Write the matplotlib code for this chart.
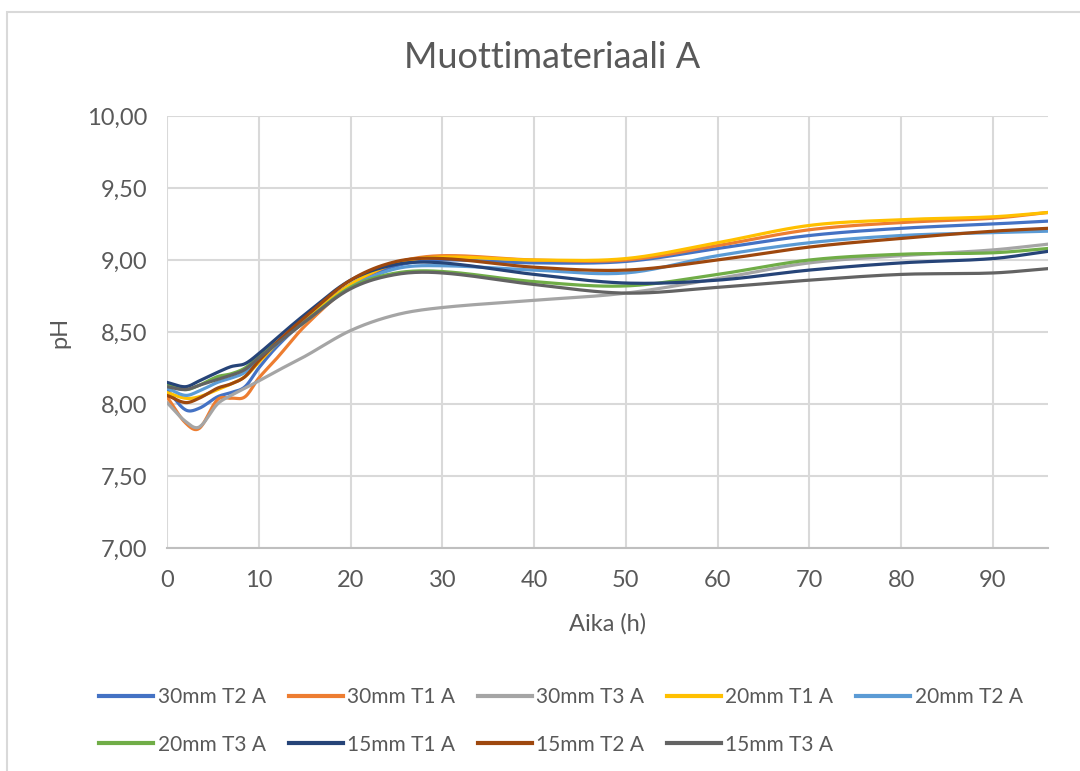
import numpy as np
import matplotlib
matplotlib.use("Agg")
import matplotlib.pyplot as plt
from matplotlib.ticker import FuncFormatter, MultipleLocator
from matplotlib.lines import Line2D

# mittausajat (h)
hours = [0, 2, 3.5, 5.5, 7, 8.5, 10, 12, 15, 20, 25, 30, 40, 50, 60, 70, 80, 90, 96]

ph_30mm_t2 = [8.10, 7.96, 7.97, 8.05, 8.08, 8.12, 8.25, 8.40, 8.58, 8.83, 8.96, 9.00, 8.98, 8.99, 9.08, 9.17, 9.22, 9.25, 9.27]
ph_30mm_t1 = [8.05, 7.87, 7.83, 8.03, 8.04, 8.05, 8.18, 8.32, 8.54, 8.82, 8.98, 9.03, 9.00, 9.00, 9.10, 9.21, 9.26, 9.29, 9.33]
ph_30mm_t3 = [8.01, 7.88, 7.84, 8.00, 8.06, 8.11, 8.16, 8.23, 8.33, 8.51, 8.62, 8.67, 8.72, 8.77, 8.87, 8.98, 9.03, 9.07, 9.11]
ph_20mm_t1 = [8.08, 8.04, 8.05, 8.10, 8.14, 8.19, 8.29, 8.42, 8.58, 8.83, 8.98, 9.02, 9.00, 9.01, 9.12, 9.24, 9.28, 9.30, 9.33]
ph_20mm_t2 = [8.11, 8.06, 8.09, 8.15, 8.18, 8.22, 8.31, 8.42, 8.57, 8.81, 8.94, 8.96, 8.93, 8.91, 9.03, 9.12, 9.17, 9.19, 9.20]
ph_20mm_t3 = [8.14, 8.10, 8.13, 8.19, 8.21, 8.25, 8.33, 8.43, 8.57, 8.81, 8.91, 8.92, 8.85, 8.82, 8.90, 9.00, 9.04, 9.05, 9.08]
ph_15mm_t1 = [8.15, 8.12, 8.16, 8.22, 8.26, 8.28, 8.35, 8.46, 8.62, 8.86, 8.97, 8.98, 8.90, 8.84, 8.86, 8.93, 8.98, 9.01, 9.06]
ph_15mm_t2 = [8.06, 8.01, 8.04, 8.11, 8.14, 8.19, 8.30, 8.43, 8.60, 8.86, 8.99, 9.01, 8.95, 8.93, 9.00, 9.09, 9.15, 9.20, 9.22]
ph_15mm_t3 = [8.12, 8.10, 8.13, 8.17, 8.20, 8.24, 8.32, 8.42, 8.57, 8.80, 8.90, 8.91, 8.83, 8.77, 8.81, 8.86, 8.90, 8.91, 8.94]

labels = ["30mm T2 A", "30mm T1 A", "30mm T3 A", "20mm T1 A", "20mm T2 A",
          "20mm T3 A", "15mm T1 A", "15mm T2 A", "15mm T3 A"]
series = [ph_30mm_t2, ph_30mm_t1, ph_30mm_t3, ph_20mm_t1, ph_20mm_t2,
          ph_20mm_t3, ph_15mm_t1, ph_15mm_t2, ph_15mm_t3]
colors = ["#4472C4", "#ED7D31", "#A5A5A5", "#FFC000", "#5B9BD5",
          "#70AD47", "#264478", "#9E480E", "#636363"]

TEXT = "#595959"
plt.rcParams["font.family"] = ["Lato", "DejaVu Sans"]


def smooth(x, y, n=20):
    """Pehmennetty viiva (kardinaalispline) pisteiden kautta."""
    x = np.asarray(x, float)
    y = np.asarray(y, float)
    m = np.zeros_like(y)
    m[1:-1] = (y[2:] - y[:-2]) / (x[2:] - x[:-2])
    m[0] = (y[1] - y[0]) / (x[1] - x[0])
    m[-1] = (y[-1] - y[-2]) / (x[-1] - x[-2])
    xs, ys = [], []
    for i in range(len(x) - 1):
        h = x[i + 1] - x[i]
        t = np.linspace(0, 1, n, endpoint=False)
        h00 = 2 * t**3 - 3 * t**2 + 1
        h10 = t**3 - 2 * t**2 + t
        h01 = -2 * t**3 + 3 * t**2
        h11 = t**3 - t**2
        xs.append(x[i] + t * h)
        ys.append(h00 * y[i] + h10 * h * m[i] + h01 * y[i + 1] + h11 * h * m[i + 1])
    xs.append([x[-1]])
    ys.append([y[-1]])
    return np.concatenate(xs), np.concatenate(ys)


fig = plt.figure(figsize=(10.8, 7.71), dpi=100)
ax = fig.add_axes([167 / 1080, 1 - 548 / 771, (1048 - 167) / 1080, (548 - 116) / 771])

# kehys kaavion ympärillä
fig.patches.append(plt.Rectangle((7 / 1080, -0.05), 1.2, 1 - 12 / 771 + 0.05,
                                 transform=fig.transFigure, fill=False,
                                 edgecolor="#D9D9D9", linewidth=1.5))

for y, c in zip(series, colors):
    sx, sy = smooth(hours, y)
    ax.plot(sx, sy, color=c, linewidth=2.3, solid_capstyle="round")

ax.set_xlim(0, 96)
ax.set_ylim(7, 10)
ax.xaxis.set_major_locator(MultipleLocator(10))
ax.yaxis.set_major_locator(MultipleLocator(0.5))
ax.yaxis.set_major_formatter(FuncFormatter(lambda v, p: f"{v:.2f}".replace(".", ",")))
ax.grid(True, color="#D9D9D9", linewidth=1.5)
ax.set_axisbelow(True)
for s in ["top", "right", "left"]:
    ax.spines[s].set_visible(False)
ax.spines["bottom"].set_color("#BFBFBF")
ax.spines["bottom"].set_linewidth(1.5)
ax.tick_params(length=0, labelsize=17, colors=TEXT)
ax.tick_params(axis="x", pad=16)
ax.tick_params(axis="y", pad=14)

ax.set_xlabel("Aika (h)", fontsize=17, color=TEXT, labelpad=16)
ax.set_ylabel("pH", fontsize=17, color=TEXT, labelpad=12)
fig.text(552 / 1080, 1 - 58 / 771, "Muottimateriaali A", fontsize=26,
         color=TEXT, ha="center", va="center")

# legenda riveittäin: 5 + 4
handles = [Line2D([], [], color=c, linewidth=3) for c in colors]
order = [0, 5, 1, 6, 2, 7, 3, 8, 4]
ax.legend([handles[i] for i in order], [labels[i] for i in order],
          ncol=5, loc="center", bbox_to_anchor=(561 / 1080, 1 - 721 / 771),
          bbox_transform=fig.transFigure, frameon=False, fontsize=15,
          labelcolor=TEXT, handlelength=2.6, handletextpad=0.2,
          columnspacing=1.1, labelspacing=1.3)

fig.savefig("out.png", dpi=100)
